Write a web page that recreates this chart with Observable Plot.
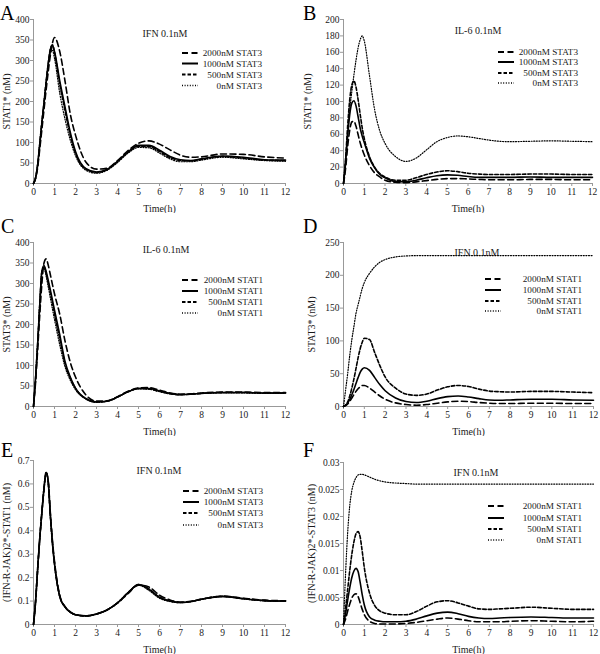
<!DOCTYPE html>
<html><head><meta charset="utf-8">
<script src="https://cdn.jsdelivr.net/npm/d3@7"></script>
<script src="https://cdn.jsdelivr.net/npm/@observablehq/plot@0.6"></script>
<style>
body{margin:0;background:#fff;}
#root{position:relative;width:600px;height:654px;overflow:hidden;font-family:"Liberation Serif","Times New Roman",serif;}
.panel{position:absolute;}
#ov{position:absolute;left:0;top:0;pointer-events:none;}
</style></head><body><div id="root"></div>
<script>
// time grid (h)
const T = [0,0.1,0.2,0.3,0.4,0.5,0.6,0.7,0.8,0.9,1,1.25,1.5,1.75,2,2.5,3,3.5,4,4.5,5,5.5,6,6.5,7,7.5,8,9,10,11,12];
const timeTicks = [0,1,2,3,4,5,6,7,8,9,10,11,12];

// Panel A: STAT1* (nM), IFN 0.1nM
const A_2000 = [0,12,40,85,132,180,228,272,312,342,356, 322,250,170,118, 52,35,37,56,80,98,104,96,82,69,64,65, 72,71,65,62];
const A_1000 = [0,14,46,96,148,195,245,290,326,337,322, 250,187,125,78, 36,28,34,54,77,93,93,81,66,58,56,60, 67,64,58,57];
const A_500  = [0,14,47,98,150,197,247,292,327,338,320, 242,178,118,74, 35,27,34,53,76,91,90,78,63,56,55,59, 66,62,57,56];
const A_0    = [0,15,48,100,152,199,248,290,318,325,305, 220,157,106,68, 32,25,32,51,74,88,87,74,60,53,53,57, 64,60,56,54];

// Panel B: STAT1* (nM), IL-6 0.1nM
const B_2000 = [0,18,45,65,75,76,70,60,50,42,35, 22,13,8,4, 1.5,1,2,3.5,5,6,6,5.5,5,4.5,4.5,4.5, 5,5,4.5,4.5];
const B_1000 = [0,25,58,84,98,101,95,82,68,58,50, 31,19,11,7, 2.5,2,4,7,9.5,10.5,10,8.5,7.5,7.5,7.5,7.5, 8,7.5,7.5,7.5];
const B_500  = [0,30,70,102,120,125,118,103,85,68,55, 33,20,12,8, 4,4,7,11,14,15.5,14.5,12.5,11.5,11,11,11, 11.5,11.5,11,11];
const B_0    = [0,30,62,90,112,132,150,165,175,180,174, 132,90,64,49, 33,27,31,41,51,56,58,57,55,53,51.5,51, 51.5,52,51.5,51];

// Panel C: STAT3* (nM), IL-6 0.1nM
const C_2000 = [0,60,140,225,300,350,360,345,322,298,275, 225,160,108,72, 28,13,14,24,37,45,46,40,33,30,31,33, 35,35,34,34];
const C_1000 = [0,70,155,250,330,344,330,308,285,260,235, 175,110,72,45, 19,11,13,23,36,44,44,38,32,29,30,32, 34,34,33,33];
const C_500  = [0,70,155,250,328,340,325,302,278,252,226, 165,105,70,44, 19,11,13,23,36,44,43,37,31,29,30,32, 34,34,33,33];
const C_0    = [0,72,158,255,330,338,318,292,265,238,212, 150,97,64,41, 18,10,13,23,36,43,42,36,31,29,30,32, 33,33,32,32];

// Panel D: STAT3* (nM), IFN 0.1nM
const D_2000 = [0,1.5,4,8,13,18,23,27,30,32,32, 28,22,16,11, 5.5,3,2,3,5,7,8,7.5,6,5,4.5,4.5, 5,5,4.5,4.5];
const D_1000 = [0,2,5,11,18,26,35,44,52,57,59, 55,44,33,24, 13,7.5,6,8,12,15,16,14.5,12,10,9.5,10, 11,11,10,9.5];
const D_500  = [0,2,7,16,28,42,58,74,88,98,104, 102,82,62,45, 28,19,17,19,25,30,32,30.5,26.5,23.5,22.5,22, 23,23,22,21];
const D_0    = [0,25,50,78,102,122,142,155,168,180,189, 203,213,220,224, 228,229.5,230,230,230,230,230,230,230,230,230,230, 230,230,230,230];

// Panel E: (IFN-R-JAK)2*-STAT1 (nM), IFN 0.1nM
const E_2000 = [0,0.1,0.24,0.37,0.48,0.58,0.648,0.615,0.48,0.36,0.27, 0.125,0.077,0.054,0.043, 0.037,0.045,0.062,0.091,0.132,0.168,0.16,0.125,0.105,0.096,0.099,0.108, 0.121,0.112,0.104,0.101];
const E_1000 = [0,0.1,0.24,0.37,0.48,0.58,0.65,0.61,0.47,0.35,0.26, 0.12,0.075,0.053,0.042, 0.037,0.045,0.062,0.092,0.135,0.17,0.15,0.115,0.1,0.094,0.098,0.108, 0.12,0.11,0.102,0.1];
const E_500  = [0,0.1,0.24,0.37,0.48,0.58,0.65,0.61,0.47,0.35,0.26, 0.12,0.075,0.053,0.042, 0.037,0.045,0.062,0.092,0.135,0.17,0.152,0.117,0.1,0.094,0.098,0.108, 0.12,0.111,0.102,0.1];
const E_0    = [0,0.1,0.24,0.37,0.48,0.58,0.648,0.6,0.46,0.345,0.255, 0.118,0.074,0.052,0.041, 0.036,0.044,0.062,0.093,0.137,0.168,0.145,0.112,0.098,0.093,0.097,0.107, 0.119,0.109,0.101,0.099];

// Panel F: (IFN-R-JAK)2*-STAT3 (nM), IFN 0.1nM
const F_2000 = [0,0.001,0.0025,0.0038,0.0049,0.0055,0.0057,0.0052,0.004,0.0028,0.0018, 0.0006,0.0002,0.0001,0.0001, 0.0001,0.0002,0.0004,0.0007,0.001,0.0012,0.001,0.0007,0.0005,0.0005,0.0005,0.0006, 0.0007,0.0006,0.0005,0.0006];
const F_1000 = [0,0.002,0.0045,0.0068,0.0087,0.0099,0.0104,0.0098,0.0078,0.0055,0.0036, 0.0014,0.0008,0.0006,0.0005, 0.0005,0.0006,0.001,0.0016,0.0021,0.0023,0.002,0.0015,0.0012,0.0011,0.0012,0.0013, 0.0014,0.0013,0.0012,0.0012];
const F_500  = [0,0.003,0.0065,0.01,0.013,0.0153,0.0168,0.0172,0.0162,0.0135,0.0105, 0.0058,0.0035,0.0025,0.0021, 0.0018,0.0018,0.0024,0.0034,0.0042,0.0044,0.004,0.0034,0.0029,0.0028,0.0029,0.003, 0.0032,0.003,0.0028,0.0028];
const F_0    = [0,0.0095,0.017,0.022,0.0248,0.0263,0.0272,0.0277,0.0278,0.0278,0.0277, 0.0273,0.0269,0.0266,0.0264, 0.0262,0.0261,0.026,0.026,0.026,0.026,0.026,0.026,0.026,0.026,0.026,0.026, 0.026,0.026,0.026,0.026];

// legend labels and tick values
const stat3Labels = ["2000nM STAT3","1000nM STAT3","500nM STAT3","0nM STAT3"];
const stat1Labels = ["2000nM STAT1","1000nM STAT1","500nM STAT1","0nM STAT1"];
const yTicksA = [0,50,100,150,200,250,300,350,400];
const yTicksB = [0,20,40,60,80,100,120,140,160,180,200];
const yTicksD = [0,50,100,150,200,250];
const yTicksE = [0,0.1,0.2,0.3,0.4,0.5,0.6,0.7];
const yTicksF = [0,0.005,0.01,0.015,0.02,0.025,0.03];

const styles = [
  {dash:"6,3.5", w:1.6},
  {dash:null, w:1.6},
  {dash:"3.5,2", w:1.6},
  {dash:"1,1.6", w:1.2}
];
const FONT = "'Liberation Serif', 'Times New Roman', serif";

const panels = [
 {letter:"A", x:0, y:0, fb:183, mt:19, ml:33, mr:15, ylab:"STAT1* (nM)", lo:31, ticks:yTicksA, series:[A_2000,A_1000,A_500,A_0], legend:stat3Labels, note:"IFN 0.1nM", nx:165, ny:33, lx:182, tx:262, ly:[53,63.5,74.5,85.5], lyx:0, lyy:20},
 {letter:"B", x:300, y:0, fb:183, mt:19, ml:43, mr:8, ylab:"STAT1* (nM)", lo:40, ticks:yTicksB, series:[B_2000,B_1000,B_500,B_0], legend:stat3Labels, note:"IL-6 0.1nM", nx:478, ny:30, lx:498, tx:578, ly:[52,62,73,83], lyx:303, lyy:20},
 {letter:"C", x:0, y:210, fb:406, mt:32, ml:33, mr:15, ylab:"STAT3* (nM)", lo:31, ticks:yTicksA, series:[C_2000,C_1000,C_500,C_0], legend:stat1Labels, note:"IL-6 0.1nM", nx:166, ny:249, lx:182, tx:263, ly:[280,291,302,313], lyx:1, lyy:233},
 {letter:"D", x:300, y:210, fb:406, mt:32, ml:43, mr:7, ylab:"STAT3* (nM)", lo:36, ticks:yTicksD, series:[D_2000,D_1000,D_500,D_0], legend:stat1Labels, note:"IFN 0.1nM", nx:477, ny:252, lx:485, tx:582, ly:[279,290,301,311], lyx:303, lyy:233},
 {letter:"E", x:0, y:420, fb:624, mt:40, ml:33, mr:15, ylab:"(IFN-R-JAK)2*-STAT1 (nM)", lo:31, ticks:yTicksE, series:[E_2000,E_1000,E_500,E_0], legend:stat3Labels, note:"IFN 0.1nM", nx:159, ny:470, lx:183, tx:263, ly:[491,502,513,525], lyx:1, lyy:457},
 {letter:"F", x:300, y:420, fb:624, mt:42, ml:43, mr:7, ylab:"(IFN-R-JAK)2*-STAT3 (nM)", lo:36, ticks:yTicksF, series:[F_2000,F_1000,F_500,F_0], legend:stat1Labels, note:"IFN 0.1nM", nx:476, ny:472, lx:488, tx:582, ly:[506,518,529,540], lyx:303, lyy:457}
];

const root = document.getElementById("root");
const fmt = d => String(+d.toFixed(6));

for (const p of panels) {
  const h = p.fb - p.y + 30;
  const ymax = p.ticks[p.ticks.length - 1];
  const lineMarks = [];
  for (let i = p.series.length - 1; i >= 0; i--) {
    const s = p.series[i];
    const data = T.map((t, j) => ({t, v: s[j]}));
    const st = styles[i];
    lineMarks.push(Plot.line(data, {x: "t", y: "v", curve: "monotone-x", stroke: "#000", strokeWidth: st.w, strokeDasharray: st.dash || undefined}));
  }
  const chart = Plot.plot({
    width: 300, height: h,
    marginTop: p.mt, marginBottom: 30, marginLeft: p.ml, marginRight: p.mr,
    style: {fontFamily: FONT, fontSize: "9.5px", background: "transparent", color: "#1a1a1a"},
    x: {domain: [0, 12]},
    y: {domain: [0, ymax]},
    marks: [
      Plot.axisX({ticks: timeTicks, tickSize: 3, tickPadding: 2, stroke: "#999", label: null}),
      Plot.axisX({ticks: [], tickSize: 0, label: "Time(h)", labelAnchor: "center", labelArrow: "none", labelOffset: 28, fontSize: 10, fontWeight: "normal"}),
      Plot.axisY({ticks: p.ticks, tickSize: 3, tickPadding: 1, stroke: "#999", tickFormat: fmt, label: null}),
      Plot.axisY({ticks: [], tickSize: 0, label: p.ylab, labelAnchor: "center", labelArrow: "none", labelOffset: p.lo, fontSize: 10, fontWeight: "normal"}),
      Plot.ruleY([0], {stroke: "#999"}),
      Plot.ruleX([0], {stroke: "#999"}),
      ...lineMarks
    ]
  });
  const div = document.createElement("div");
  div.className = "panel";
  div.style.left = p.x + "px";
  div.style.top = p.y + "px";
  div.appendChild(chart);
  root.appendChild(div);
}

// overlay: panel letters, condition notes, legends
const ov = d3.select(root).append("svg").attr("id", "ov").attr("width", 600).attr("height", 654)
  .style("font-family", FONT);
for (const p of panels) {
  ov.append("text").attr("x", p.lyx).attr("y", p.lyy).attr("font-size", 20).attr("fill", "#000").text(p.letter);
  ov.append("text").attr("x", p.nx).attr("y", p.ny).attr("dy", "0.35em").attr("text-anchor", "middle").attr("font-size", 10).attr("fill", "#1a1a1a").text(p.note);
  p.legend.forEach((lab, i) => {
    const st = styles[i];
    const yy = p.ly[i];
    const ln = ov.append("line").attr("x1", p.lx).attr("x2", p.lx + 16).attr("y1", yy).attr("y2", yy)
      .attr("stroke", "#000").attr("stroke-width", st.w + 0.4);
    if (st.dash) ln.attr("stroke-dasharray", st.dash);
    ov.append("text").attr("x", p.tx).attr("y", yy).attr("dy", "0.35em").attr("text-anchor", "end")
      .attr("font-size", 9.2).attr("fill", "#1a1a1a").text(lab);
  });
}
</script>
</body></html>
